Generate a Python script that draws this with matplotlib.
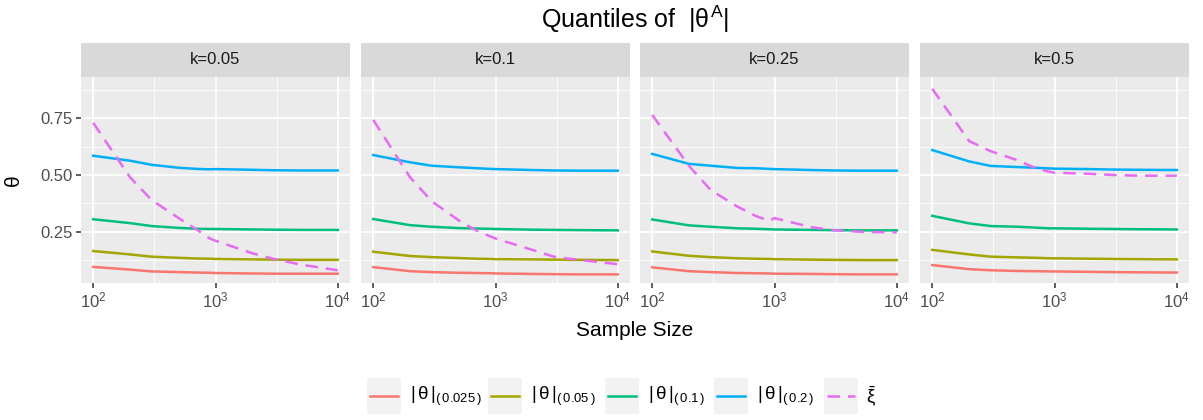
import numpy as np
import matplotlib
matplotlib.use('Agg')
import matplotlib.pyplot as plt
from matplotlib.patches import Rectangle
from matplotlib.lines import Line2D

plt.rcParams['font.family'] = ['Liberation Sans', 'DejaVu Sans']
plt.rcParams['mathtext.fontset'] = 'custom'
plt.rcParams['mathtext.rm'] = 'Liberation Sans'
plt.rcParams['mathtext.it'] = 'Liberation Sans'
plt.rcParams['mathtext.bf'] = 'Liberation Sans:bold'

# ---------------- data ----------------
sample_size = [100, 200, 300, 500, 700, 900, 1000, 2000, 3000, 5000, 10000]
k_labels = ['k=0.05', 'k=0.1', 'k=0.25', 'k=0.5']

q0025 = [
    [0.095, 0.083, 0.075, 0.072, 0.070, 0.069, 0.068, 0.066, 0.065, 0.065, 0.065],
    [0.094, 0.076, 0.072, 0.069, 0.068, 0.067, 0.066, 0.064, 0.063, 0.062, 0.062],
    [0.093, 0.076, 0.072, 0.068, 0.067, 0.066, 0.065, 0.064, 0.063, 0.062, 0.062],
    [0.103, 0.085, 0.080, 0.077, 0.076, 0.075, 0.075, 0.073, 0.072, 0.071, 0.070],
]
q005 = [
    [0.165, 0.150, 0.140, 0.135, 0.132, 0.131, 0.130, 0.128, 0.127, 0.126, 0.126],
    [0.162, 0.143, 0.138, 0.134, 0.131, 0.130, 0.129, 0.128, 0.127, 0.126, 0.125],
    [0.163, 0.144, 0.138, 0.133, 0.131, 0.130, 0.129, 0.127, 0.126, 0.125, 0.125],
    [0.170, 0.150, 0.140, 0.137, 0.135, 0.133, 0.133, 0.131, 0.130, 0.129, 0.128],
]
q01 = [
    [0.305, 0.288, 0.275, 0.267, 0.263, 0.262, 0.262, 0.260, 0.259, 0.258, 0.258],
    [0.306, 0.279, 0.272, 0.266, 0.264, 0.263, 0.262, 0.259, 0.258, 0.257, 0.256],
    [0.304, 0.278, 0.272, 0.265, 0.263, 0.261, 0.260, 0.258, 0.257, 0.256, 0.256],
    [0.320, 0.287, 0.275, 0.272, 0.268, 0.265, 0.265, 0.263, 0.262, 0.261, 0.260],
]
q02 = [
    [0.585, 0.563, 0.545, 0.532, 0.527, 0.525, 0.526, 0.523, 0.521, 0.520, 0.520],
    [0.588, 0.556, 0.541, 0.534, 0.530, 0.527, 0.526, 0.522, 0.520, 0.519, 0.519],
    [0.593, 0.549, 0.541, 0.531, 0.530, 0.527, 0.526, 0.522, 0.520, 0.519, 0.519],
    [0.610, 0.560, 0.540, 0.535, 0.532, 0.529, 0.528, 0.526, 0.524, 0.523, 0.522],
]
xi_bar = [
    [0.730, 0.490, 0.390, 0.310, 0.260, 0.220, 0.210, 0.155, 0.130, 0.105, 0.080],
    [0.743, 0.490, 0.385, 0.300, 0.255, 0.230, 0.220, 0.170, 0.140, 0.125, 0.107],
    [0.765, 0.540, 0.434, 0.360, 0.320, 0.298, 0.310, 0.270, 0.257, 0.250, 0.247],
    [0.880, 0.650, 0.605, 0.565, 0.530, 0.515, 0.510, 0.505, 0.500, 0.497, 0.497],
]

series = [q0025, q005, q01, q02, xi_bar]
series_labels = [r'$|\,\theta\,|_{(\,0.025\,)}$', r'$|\,\theta\,|_{(\,0.05\,)}$',
                 r'$|\,\theta\,|_{(\,0.1\,)}$', r'$|\,\theta\,|_{(\,0.2\,)}$', r'$\bar{\xi}$']
colors = ['#F8766D', '#A3A500', '#00BF7D', '#00B0F6', '#E76BF3']
styles = ['-', '-', '-', '-', '--']

# ---------------- layout ----------------
W, H = 1203, 420
fig = plt.figure(figsize=(W / 100, H / 100), dpi=100)

def fx(x):
    return x / W

def fy(y):
    return 1 - y / H

panel_left = [81, 361, 640, 920]
panel_w = 269
panel_top, panel_bot = 77, 283
strip_top = 43
LW = 1.8
DASH = (5.0, 3.2)

for i in range(4):
    ax = fig.add_axes([fx(panel_left[i]), fy(panel_bot), panel_w / W, (panel_bot - panel_top) / H])
    ax.set_facecolor('#EBEBEB')
    ax.set_xscale('log')
    ax.set_xlim(10 ** 1.9, 10 ** 4.1)
    ax.set_ylim(0.024, 0.932)
    for s in ax.spines.values():
        s.set_visible(False)
    # grid
    for xv in [10 ** 2.5, 10 ** 3.5]:
        ax.axvline(xv, color='white', lw=0.6, zorder=0)
    for yv in [0.125, 0.375, 0.625, 0.875]:
        ax.axhline(yv, color='white', lw=0.6, zorder=0)
    for xv in [1e2, 1e3, 1e4]:
        ax.axvline(xv, color='white', lw=1.25, zorder=0)
    for yv in [0.25, 0.5, 0.75]:
        ax.axhline(yv, color='white', lw=1.25, zorder=0)
    ax.set_xticks([1e2, 1e3, 1e4])
    ax.set_xticklabels([r'$10^{2}$', r'$10^{3}$', r'$10^{4}$'])
    ax.xaxis.set_minor_locator(matplotlib.ticker.NullLocator())
    ax.set_yticks([0.25, 0.5, 0.75])
    if i == 0:
        ax.set_yticklabels(['0.25', '0.50', '0.75'])
    else:
        ax.set_yticklabels([])
    ax.tick_params(axis='both', colors='#333333', labelcolor='#4D4D4D',
                   length=3.7, width=1.1, labelsize=12, pad=2)
    if i != 0:
        ax.tick_params(axis='y', length=0)
    for s_data, c, ls in zip(series, colors, styles):
        ln, = ax.plot(sample_size, s_data[i], color=c, lw=LW, ls=ls, zorder=3)
        if ls == '--':
            ln.set_dashes(DASH)
    # strip
    sax = fig.add_axes([fx(panel_left[i]), fy(panel_top), panel_w / W, (panel_top - strip_top) / H])
    sax.set_facecolor('#D9D9D9')
    sax.set_xticks([]); sax.set_yticks([])
    for s in sax.spines.values():
        s.set_visible(False)
    sax.text(0.5, 0.5, k_labels[i], ha='center', va='center', fontsize=12,
             color='#1A1A1A', transform=sax.transAxes)

# titles
fig.text(fx(635), fy(19), r'Quantiles of  $|\theta^{A}|$', ha='center', va='center',
         fontsize=18, color='black')
fig.text(fx(635), fy(330), 'Sample Size', ha='center', va='center', fontsize=15, color='black')
fig.text(fx(13), fy(180), 'θ', ha='center', va='center', fontsize=15, rotation=90, color='black')

# legend
key_left = [367, 488, 605, 714, 824]
text_left = [410, 531, 648, 757, 866]
key_w, key_top, key_h = 34, 378, 36
for kl, tl, lab, c, ls in zip(key_left, text_left, series_labels, colors, styles):
    fig.add_artist(Rectangle((fx(kl), fy(key_top + key_h)), key_w / W, key_h / H,
                             transform=fig.transFigure, facecolor='#F2F2F2', edgecolor='none'))
    ln = Line2D([fx(kl + 3), fx(kl + key_w - 3)], [fy(key_top + key_h / 2)] * 2,
                transform=fig.transFigure, color=c, lw=LW, ls=ls)
    if ls == '--':
        ln.set_dashes(DASH)
    fig.add_artist(ln)
    fig.text(fx(tl), fy(key_top + key_h / 2), lab, ha='left', va='center', fontsize=13.5, color='black')

fig.savefig('out.png', dpi=100)
